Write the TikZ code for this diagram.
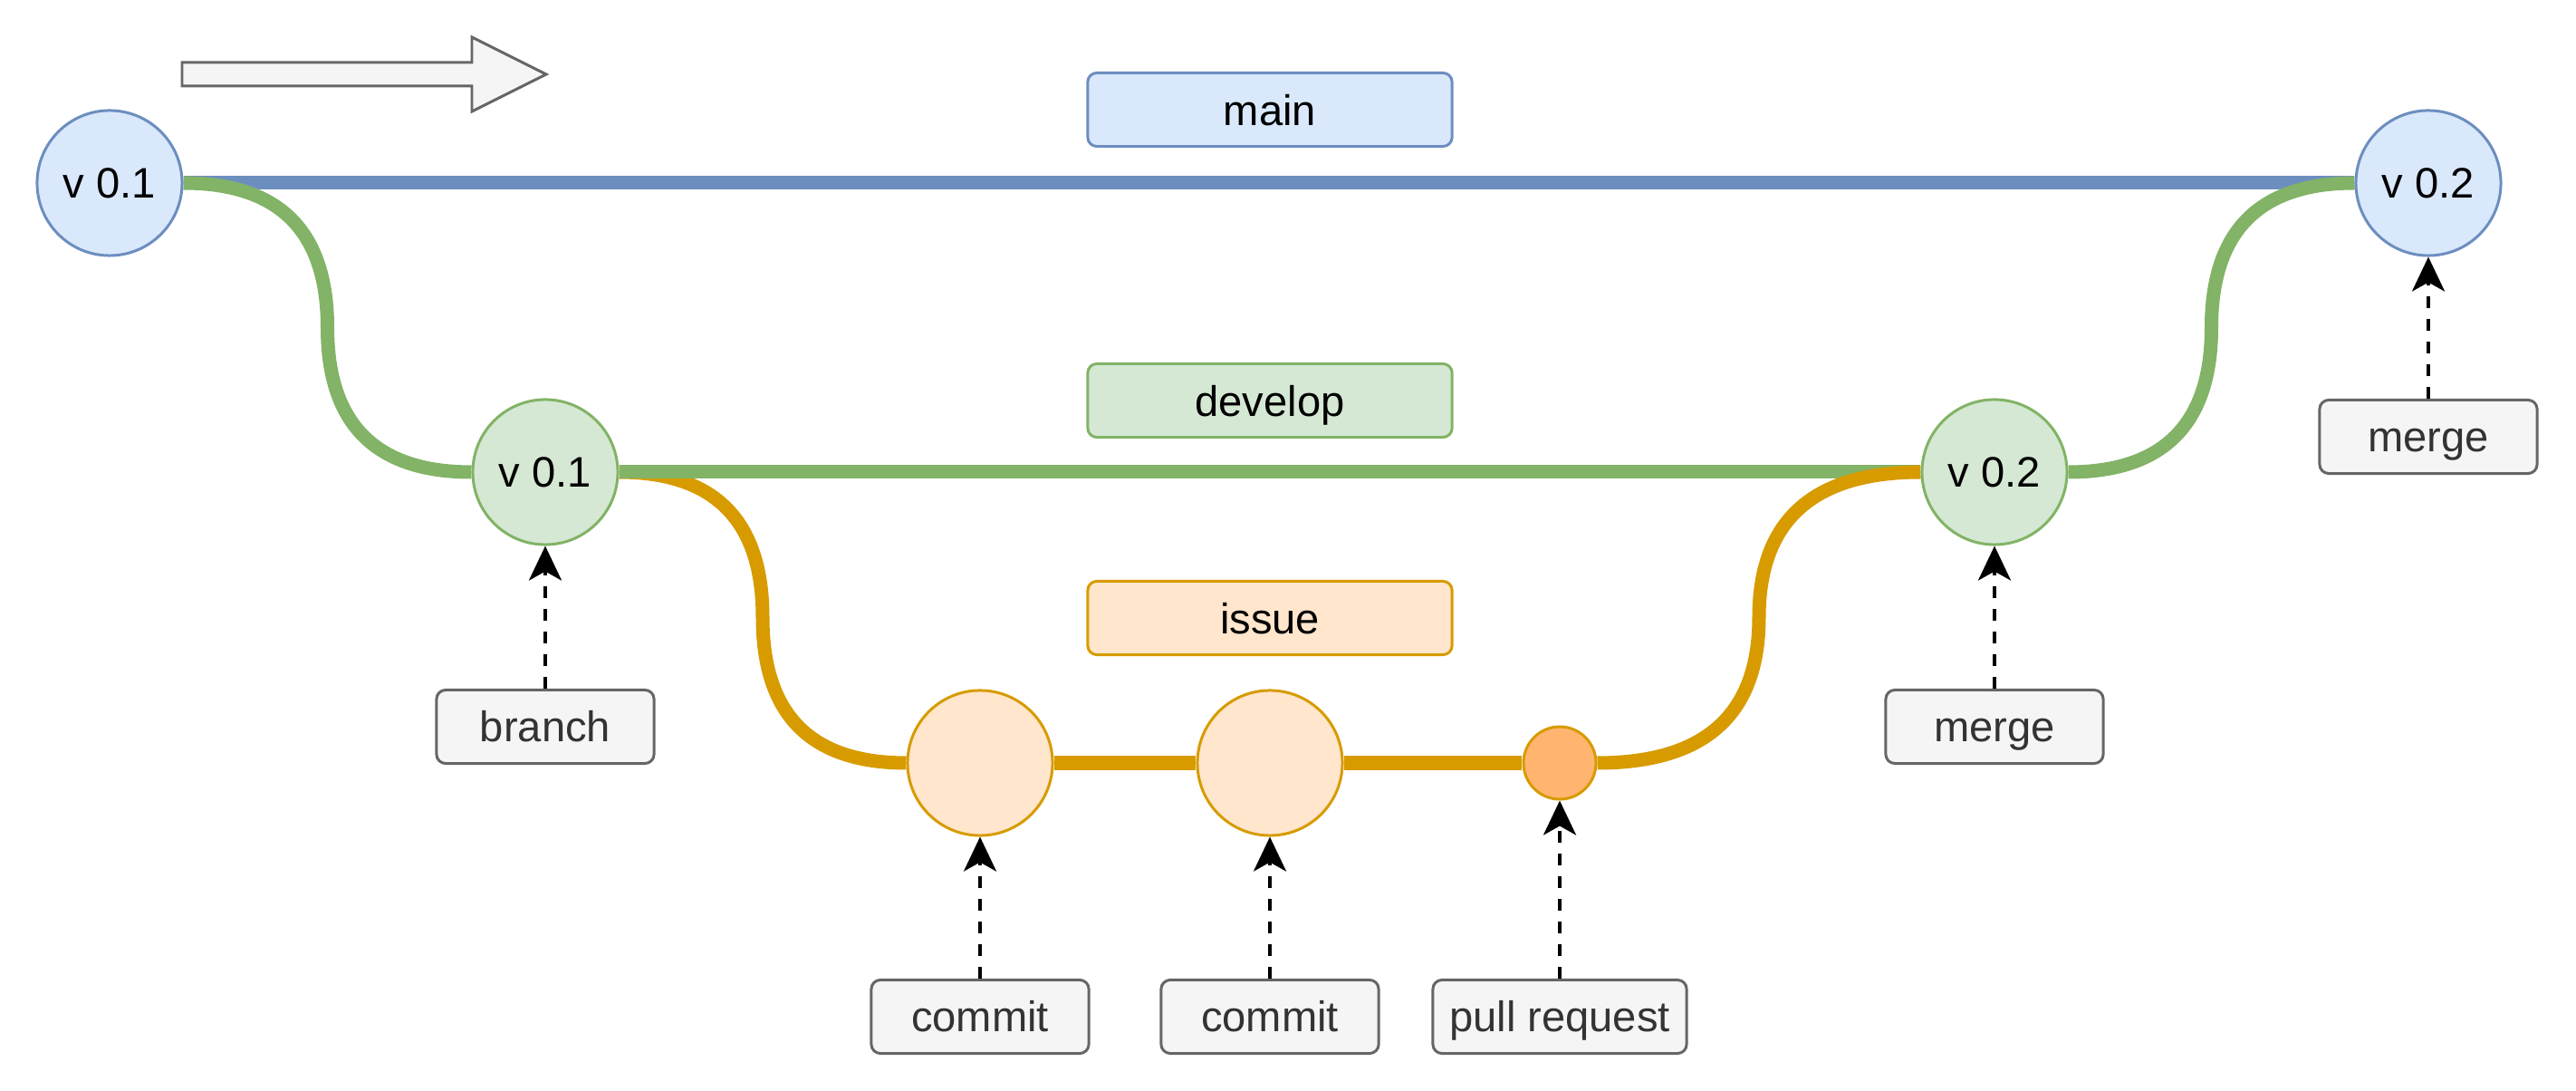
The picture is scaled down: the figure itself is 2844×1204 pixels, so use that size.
\documentclass[tikz,border=0pt]{standalone}
\usepackage{fontspec}
\setmainfont{Liberation Sans}
\usetikzlibrary{arrows.meta,calc,backgrounds}
\definecolor{mainfill}{HTML}{DAE8FC}
\definecolor{mainline}{HTML}{6C8EBF}
\definecolor{devfill}{HTML}{D5E8D4}
\definecolor{devline}{HTML}{82B366}
\definecolor{issfill}{HTML}{FFE6CC}
\definecolor{issline}{HTML}{D79B00}
\definecolor{prfill}{HTML}{FFB570}
\definecolor{grayfill}{HTML}{F5F5F5}
\definecolor{grayline}{HTML}{666666}
\definecolor{graytext}{HTML}{333333}
\tikzset{
  every node/.style={font=\fontsize{13.4pt}{16pt}\selectfont},
  commitnode/.style={circle, line width=0.85pt, minimum size=1.6cm, inner sep=0pt},
  vmain/.style={commitnode, draw=mainline, fill=mainfill},
  vdev/.style={commitnode, draw=devline, fill=devfill},
  viss/.style={commitnode, draw=issline, fill=issfill},
  vpr/.style={circle, line width=0.85pt, minimum size=0.8cm, inner sep=0pt, draw=issline, fill=prfill},
  branchlabel/.style={rectangle, rounded corners=0.1cm, line width=0.85pt, minimum width=4.02cm, minimum height=0.81cm, inner sep=0pt, text height=9.8pt, text depth=0pt},
  notebox/.style={rectangle, rounded corners=0.1cm, line width=0.85pt, draw=grayline, fill=grayfill, text=graytext, minimum width=2.4cm, minimum height=0.81cm, inner sep=0pt, text height=9.6pt, text depth=0pt},
  mainedge/.style={draw=mainline, line width=4.27pt},
  devedge/.style={draw=devline, line width=4.27pt},
  issedge/.style={draw=issline, line width=4.27pt},
  dasharrow/.style={draw=black, line width=1pt, dash pattern=on 0.13cm off 0.12cm, -{Stealth[length=0.38cm,width=0.36cm,inset=0.1cm]}},
}
\newcommand\sbendpath[3]{%
  \coordinate (#3m) at ($(#1)!0.5!(#2)$);
  \coordinate (#3a) at (#3m |- #1);
  \coordinate (#3b) at (#3m |- #2);
}
\begin{document}
\begin{tikzpicture}[x=0.01cm,y=-0.01cm]
\useasboundingbox (0,0) rectangle (2844,1204);

% direction arrow
\draw[draw=grayline, fill=grayfill, line width=0.85pt, line join=miter]
  (201,69) -- (521,69) -- (521,41) -- (603,82) -- (521,123) -- (521,95) -- (201,95) -- cycle;

% branch labels
\node[branchlabel, draw=mainline, fill=mainfill] (lmain) at (1402,121) {main};
\node[branchlabel, draw=devline, fill=devfill] (ldev) at (1402,442) {develop};
\node[branchlabel, draw=issline, fill=issfill] (liss) at (1402,682) {issue};

% commits
\node[vmain] (mv1) at (121,202) {v 0.1};
\node[vmain] (mv2) at (2681,202) {v 0.2};
\node[vdev] (dv1) at (602,521) {v 0.1};
\node[vdev] (dv2) at (2202,521) {v 0.2};
\node[viss] (c1) at (1082,842) {};
\node[viss] (c2) at (1402,842) {};
\node[vpr] (pr) at (1722,842) {};

% notes
\node[notebox] (nbranch) at (602,802) {branch};
\node[notebox] (nmerge1) at (2202,802) {merge};
\node[notebox] (nmerge2) at (2681,482) {merge};
\node[notebox] (ncommit1) at (1082,1122) {commit};
\node[notebox] (ncommit2) at (1402,1122) {commit};
\node[notebox, minimum width=2.8cm] (npr) at (1722,1122) {pull request};

\begin{scope}[on background layer]
  % main line
  \draw[mainedge] (mv1.east) -- (mv2.west);
  % main v0.1 -> develop v0.1
  \sbendpath{mv1.east}{dv1.west}{ka}
  \draw[devedge] (mv1.east) .. controls ($(mv1.east)!2/3!(kaa)$) and ($(kam)!2/3!(kaa)$) .. (kam)
    .. controls ($(kam)!2/3!(kab)$) and ($(dv1.west)!2/3!(kab)$) .. (dv1.west);
  % develop v0.1 -> issue commit 1
  \sbendpath{dv1.east}{c1.west}{kb}
  \draw[issedge] (dv1.east) .. controls ($(dv1.east)!2/3!(kba)$) and ($(kbm)!2/3!(kba)$) .. (kbm)
    .. controls ($(kbm)!2/3!(kbb)$) and ($(c1.west)!2/3!(kbb)$) .. (c1.west);
  % develop line
  \draw[devedge] (dv1.east) -- (dv2.west);
  % issue line
  \draw[issedge] (c1.east) -- (c2.west);
  \draw[issedge] (c2.east) -- (pr.west);
  % pull request -> develop v0.2
  \sbendpath{pr.east}{dv2.west}{kc}
  \draw[issedge] (pr.east) .. controls ($(pr.east)!2/3!(kca)$) and ($(kcm)!2/3!(kca)$) .. (kcm)
    .. controls ($(kcm)!2/3!(kcb)$) and ($(dv2.west)!2/3!(kcb)$) .. (dv2.west);
  % develop v0.2 -> main v0.2
  \sbendpath{dv2.east}{mv2.west}{kd}
  \draw[devedge] (dv2.east) .. controls ($(dv2.east)!2/3!(kda)$) and ($(kdm)!2/3!(kda)$) .. (kdm)
    .. controls ($(kdm)!2/3!(kdb)$) and ($(mv2.west)!2/3!(kdb)$) .. (mv2.west);
\end{scope}

% dashed arrows
\draw[dasharrow] (nbranch.north) -- (dv1.south);
\draw[dasharrow] (nmerge1.north) -- (dv2.south);
\draw[dasharrow] (nmerge2.north) -- (mv2.south);
\draw[dasharrow] (ncommit1.north) -- (c1.south);
\draw[dasharrow] (ncommit2.north) -- (c2.south);
\draw[dasharrow] (npr.north) -- (pr.south);
\end{tikzpicture}
\end{document}
